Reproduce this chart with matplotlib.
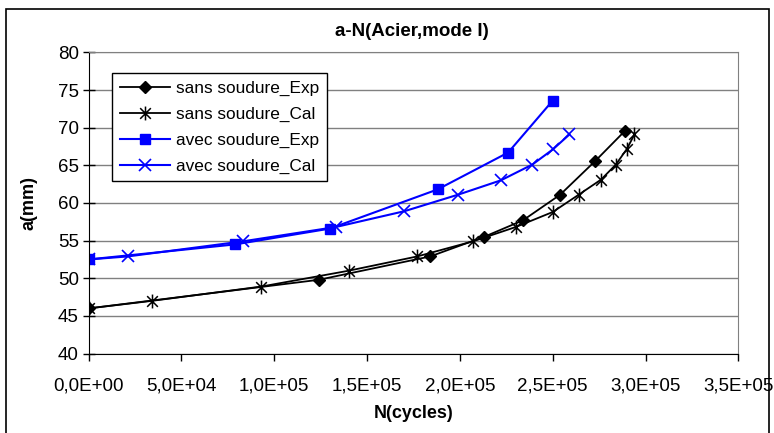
import matplotlib
matplotlib.use("Agg")
import matplotlib.pyplot as plt
from matplotlib.path import Path
from matplotlib.patches import Rectangle
from matplotlib.ticker import MultipleLocator, FuncFormatter

plt.rcParams['font.family'] = ['Liberation Sans', 'DejaVu Sans']

#%% Data
N_sans_exp = [0, 124e3, 184e3, 213e3, 234e3, 254e3, 273e3, 289e3]
a_sans_exp = [46.0, 49.8, 52.9, 55.5, 57.7, 61.1, 65.6, 69.6]

N_sans_cal = [0, 34e3, 93e3, 140e3, 177e3, 207e3, 230e3, 250e3, 264e3, 276e3, 284e3, 290e3, 294e3]
a_sans_cal = [46.0, 47.0, 48.9, 51.0, 52.9, 54.9, 56.8, 58.8, 61.1, 63.1, 65.1, 67.2, 69.1]

N_avec_exp = [0, 79e3, 130e3, 188e3, 226e3, 250e3]
a_avec_exp = [52.5, 54.5, 56.6, 61.8, 66.7, 73.6]

N_avec_cal = [0, 21e3, 83e3, 133e3, 170e3, 199e3, 222e3, 239e3, 250e3, 259e3]
a_avec_cal = [52.5, 52.9, 54.9, 56.8, 58.9, 61.1, 63.0, 65.1, 67.1, 69.1]

#%% Excel style asterisk marker
star = Path([(-1, -1), (1, 1), (-1, 1), (1, -1), (0, -1.3), (0, 1.3)],
            [Path.MOVETO, Path.LINETO, Path.MOVETO, Path.LINETO, Path.MOVETO, Path.LINETO])

fig = plt.figure(figsize=(7.74, 4.33), dpi=100)
ax = fig.add_axes([0.1145, 0.1834, 0.8395, 0.6957])

ax.plot(N_sans_exp, a_sans_exp, color='black', lw=1.3, marker='D', markersize=6.5,
        label='sans soudure_Exp')
ax.plot(N_sans_cal, a_sans_cal, color='black', lw=1.3, marker=star, markersize=10,
        markeredgewidth=1.1, label='sans soudure_Cal')
ax.plot(N_avec_exp, a_avec_exp, color='#0000FF', lw=1.5, marker='s', markersize=7.5,
        label='avec soudure_Exp')
ax.plot(N_avec_cal, a_avec_cal, color='#0000FF', lw=1.5, marker='x', markersize=9,
        markeredgewidth=1.2, label='avec soudure_Cal')

ax.set_xlim(0, 3.5e5)
ax.set_ylim(40, 80)
ax.xaxis.set_major_locator(MultipleLocator(5e4))
ax.yaxis.set_major_locator(MultipleLocator(5))

def sci_fmt(v, pos):
    s = '{:.1E}'.format(v).replace('.', ',')
    return s

ax.xaxis.set_major_formatter(FuncFormatter(sci_fmt))
ax.tick_params(axis='x', direction='out', length=5, width=1, labelsize=13.5, pad=12)
ax.tick_params(axis='y', direction='inout', length=8, width=1, labelsize=13.5, pad=3)

ax.grid(axis='y', color='#808080', lw=1)
ax.set_axisbelow(True)
ax.spines['top'].set_color('#808080')
ax.spines['right'].set_color('#808080')
ax.spines['left'].set_color('black')
ax.spines['bottom'].set_color('black')

ax.set_xlabel('N(cycles)', fontsize=13, fontweight='bold', labelpad=8)
ax.set_ylabel('a(mm)', fontsize=13, fontweight='bold', labelpad=15)
fig.text(0.532, 0.928, 'a-N(Acier,mode I)', fontsize=13.5, fontweight='bold',
         ha='center', va='center')

leg = ax.legend(loc='upper left', bbox_to_anchor=(0.036, 0.931), borderaxespad=0,
                fontsize=12.4, frameon=True, fancybox=False, edgecolor='black',
                framealpha=1, handlelength=2.9, borderpad=0.45, labelspacing=0.62,
                handletextpad=0.35)
leg.get_frame().set_linewidth(1)

# chart area border
fig.patches.append(Rectangle((6 / 774, -0.05), (769 - 6) / 774, 1.05 - 9 / 433,
                             transform=fig.transFigure, fill=False,
                             edgecolor='black', lw=1.2, clip_on=False))

fig.savefig('out.png', dpi=100)
